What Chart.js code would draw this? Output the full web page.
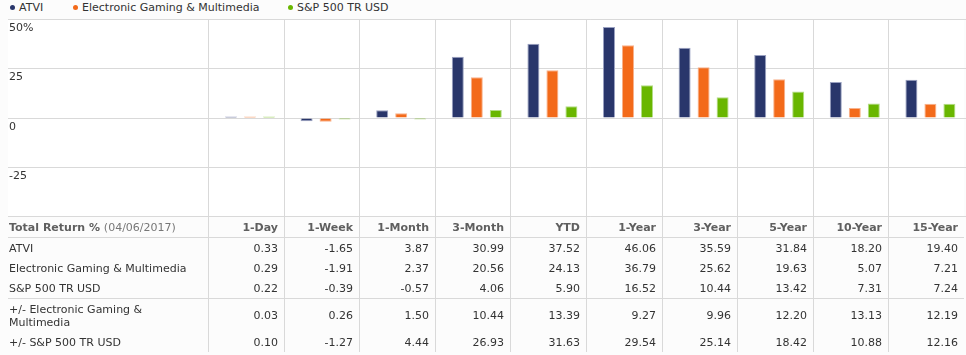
<!DOCTYPE html>
<html><head><meta charset="utf-8">
<script src="https://cdn.jsdelivr.net/npm/chart.js@4/dist/chart.umd.min.js"></script>
<style>
html,body{margin:0;padding:0;}
body{width:966px;height:355px;overflow:hidden;background:#fcfcfc;position:relative;font-family:"DejaVu Sans",Verdana,sans-serif;font-size:11px;color:#333;}
#legend{position:absolute;left:0;top:0;width:966px;height:18px;}
#legend .item{position:absolute;top:0;height:15px;line-height:15px;white-space:nowrap;color:#333;}
#legend .dot{position:absolute;width:5px;height:5px;border-radius:50%;top:5px;}
#chartWrap{position:absolute;left:0;top:0;width:972px;height:218px;}
#tbl{position:absolute;left:8px;top:217px;display:grid;}
.cell{box-sizing:border-box;display:flex;align-items:center;justify-content:flex-end;padding-right:6px;border-left:1px solid #d9d9d9;white-space:nowrap;color:#333;}
.cell.first{border-left:none;justify-content:flex-start;padding-left:1px;padding-right:10px;white-space:normal;}
.cell.first > div{line-height:13px;}
.hdr{color:#5f5f5f;font-weight:bold;}
.hdr .date{font-weight:normal;color:#777;}
.sep{border-bottom:1px solid #d9d9d9;}
</style>
</head><body>
<div id="legend"></div>
<div id="chartWrap"><canvas id="c" width="972" height="218"></canvas></div>
<div id="tbl"></div>
<script>
// ---- data ----
const periods = ['1-Day','1-Week','1-Month','3-Month','YTD','1-Year','3-Year','5-Year','10-Year','15-Year'];
const seriesNames = ['ATVI','Electronic Gaming & Multimedia','S&P 500 TR USD'];
const atvi = [0.33,-1.65,3.87,30.99,37.52,46.06,35.59,31.84,18.20,19.40];
const egm  = [0.29,-1.91,2.37,20.56,24.13,36.79,25.62,19.63,5.07,7.21];
const sp500 = [0.22,-0.39,-0.57,4.06,5.90,16.52,10.44,13.42,7.31,7.24];
const diffEgm = [0.03,0.26,1.50,10.44,13.39,9.27,9.96,12.20,13.13,12.19];
const diffSp = [0.10,-1.27,4.44,26.93,31.63,29.54,25.14,18.42,10.88,12.16];
const diffNames = ['+/- Electronic Gaming & Multimedia','+/- S&P 500 TR USD'];
const tableTitle = 'Total Return %';
const asOf = '(04/06/2017)';
const yTicks = {min:-50, max:50, step:25};

// ---- style ----
const colors = ['#29366b','#f36a1a','#69b600'];
const borders = ['#9aa1c1','#f8b28c','#b3dc85'];
const gridColor = '#d9d9d9';

// legend
const legend = document.getElementById('legend');
const legendPos = [[12,19],[75,82],[290,297]];
seriesNames.forEach((n,i)=>{
  const d=document.createElement('span');d.className='dot';d.style.background=colors[i];
  d.style.left=(legendPos[i][0]-2.5)+'px';legend.appendChild(d);
  const t=document.createElement('span');t.className='item';t.textContent=n;t.style.left=legendPos[i][1]+'px';legend.appendChild(t);
});

const shift = 4.2;
function colLines(chart){
  const xs = chart.scales.x; const w = xs.width/periods.length; const out=[];
  for(let i=0;i<periods.length;i++) out.push(Math.round(xs.left - shift + i*w));
  return out;
}
const colGrid = {
  id:'colGrid',
  beforeDraw(chart){
    const {ctx, chartArea:a} = chart;
    ctx.save(); ctx.fillStyle='#ffffff'; ctx.fillRect(8, a.top, 956, a.bottom-a.top); ctx.restore();
  },
  beforeDatasetsDraw(chart){
    const {ctx, chartArea:a} = chart;
    ctx.save(); ctx.strokeStyle=gridColor; ctx.lineWidth=1; ctx.beginPath();
    colLines(chart).forEach(x=>{ctx.moveTo(x+0.5,a.top);ctx.lineTo(x+0.5,a.bottom);});
    ctx.stroke(); ctx.restore();
  }
};

const chart = new Chart(document.getElementById('c'), {
  type:'bar',
  data:{labels:periods, datasets:[atvi,egm,sp500].map((d,i)=>({
    label:seriesNames[i], data:d, backgroundColor:colors[i], borderColor:borders[i], borderWidth:1, borderSkipped:'start', minBarLength:1.5
  }))},
  plugins:[colGrid],
  options:{
    responsive:false, animation:false,
    layout:{padding:{top:19.2,left:9,right:3.8,bottom:1.2}},
    datasets:{bar:{categoryPercentage:0.754, barPercentage:0.632}},
    plugins:{legend:{display:false}, tooltip:{enabled:false}},
    scales:{
      x:{display:false},
      y:{min:yTicks.min,max:yTicks.max,
        border:{display:false},
        grid:{color:gridColor,lineWidth:1,drawTicks:true,tickLength:204.2,tickColor:gridColor},
        ticks:{stepSize:yTicks.step,crossAlign:'far',labelOffset:9,color:'#333',
          font:{family:'"DejaVu Sans", Verdana, sans-serif',size:11},
          callback:v=> v===yTicks.max ? v+'%' : (v===yTicks.min ? '' : String(v))},
        afterFit(s){s.width=203.2;s.paddingTop=0;s.paddingBottom=0;}
      }
    }
  }
});

// table
const lines = colLines(chart);
const widths = [lines[0]-8];
for(let i=0;i<lines.length;i++) widths.push((i+1<lines.length?lines[i+1]:964)-lines[i]);
const tbl = document.getElementById('tbl');
tbl.style.gridTemplateColumns = widths.map(w=>w+'px').join(' ');
const rows = [
  {head:true, h:21, sep:true},
  {name:seriesNames[0], vals:atvi, h:20},
  {name:seriesNames[1], vals:egm, h:20},
  {name:seriesNames[2], vals:sp500, h:21, sep:true},
  {name:diffNames[0], vals:diffEgm, h:33},
  {name:diffNames[1], vals:diffSp, h:20}
];
tbl.style.gridTemplateRows = rows.map(r=>r.h+'px').join(' ');
rows.forEach(r=>{
  const first=document.createElement('div'); first.className='cell first'+(r.sep?' sep':'')+(r.head?' hdr':'');
  const inner=document.createElement('div');
  if(r.head){ const b=document.createElement('span'); b.textContent=tableTitle+' '; const d=document.createElement('span'); d.className='date'; d.textContent=asOf; inner.appendChild(b); inner.appendChild(d);} 
  else inner.textContent=r.name;
  first.appendChild(inner); tbl.appendChild(first);
  for(let i=0;i<periods.length;i++){
    const c=document.createElement('div'); c.className='cell'+(r.sep?' sep':'')+(r.head?' hdr':'');
    c.textContent = r.head ? periods[i] : r.vals[i].toFixed(2);
    tbl.appendChild(c);
  }
});
</script>
</body></html>
